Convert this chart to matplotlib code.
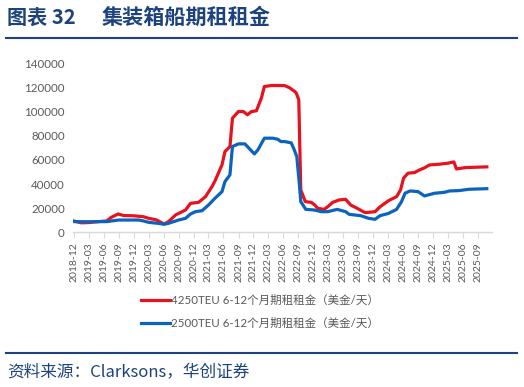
import matplotlib

matplotlib.use("Agg")
import matplotlib.pyplot as plt
import matplotlib.dates as mdates
import numpy as np
import pandas as pd

plt.rcParams["font.family"] = ["Lato", "Noto Sans CJK SC", "DejaVu Sans"]

# month offsets from 2018-12 and values in USD/day
red_months = [0, 1.5, 3, 5, 6.6, 7.5, 8.9, 10, 12, 14, 15, 16.5, 18.1, 19, 20.4, 22.4,
              23.4, 25, 26.4, 27.7, 28.3, 29.7, 30.3, 31.3, 31.8, 33, 34, 34.8, 35.6,
              36.6, 37.6, 38.2, 39.6, 42.2, 43.2, 44.3, 44.6, 45.1, 45.5, 45.9, 46.4,
              47.6, 48.3, 48.9, 50.2, 50.9, 51.9, 53.2, 54.5, 55.5, 56.8, 58.4, 60.4,
              61.4, 63.1, 64.7, 65.5, 66.1, 67.0, 68.3, 69.3, 70.3, 71.3, 73.3, 74.9,
              76.2, 76.7, 78.5, 80.5, 82.8]
red_values = [9500, 8000, 8200, 9000, 9500, 12500, 15300, 14000, 13800, 13000, 11700,
              10500, 7000, 9000, 14500, 18600, 24100, 24900, 29600, 37900, 42600, 55800,
              66800, 71000, 94400, 99900, 99900, 97200, 99900, 100500, 111000, 120600,
              121400, 121400, 119700, 116400, 115100, 109600, 35100, 31000, 25500,
              24900, 22700, 20000, 19100, 21300, 24900, 26900, 27400, 22700, 20000,
              16400, 17200, 21300, 26300, 29600, 35100, 44800, 49000, 49500, 51700,
              53400, 55800, 56400, 57200, 58300, 52500, 53600, 53900, 54200]

blue_months = [0, 3, 6.6, 9, 13, 14, 15, 17, 18.1, 19, 21, 22.4, 23.4, 24.4, 25.7, 27,
               28.3, 29.7, 30.3, 31.3, 31.8, 33, 34.3, 35.3, 36.2, 36.9, 38.2, 39.9,
               40.9, 41.5, 42.3, 43.6, 44.2, 44.7, 45.2, 45.5, 46.5, 48.2, 49.6, 50.9,
               52.8, 54.5, 55.2, 57.5, 59.1, 60.4, 61.4, 63.1, 64.7, 65.7, 66.4, 67.4,
               69.0, 70.3, 72.3, 74.3, 75.3, 77.2, 79.2, 82.8]
blue_values = [9000, 8900, 9000, 10300, 10300, 9500, 8400, 7500, 6800, 7600, 10300,
               11700, 15300, 17200, 18000, 22700, 28300, 33700, 42000, 47600, 71000,
               73200, 73200, 68800, 64900, 68200, 77900, 77900, 77000, 75100, 75100,
               74000, 68200, 62700, 40700, 25500, 19100, 18600, 17200, 17200, 19100,
               17200, 15000, 13900, 11700, 10900, 13900, 15800, 19100, 25500, 32400,
               34300, 33800, 30200, 32400, 33200, 34300, 34600, 35700, 36200]

label_red = "4250TEU 6-12个月期租租金（美金/天）"
label_blue = "2500TEU 6-12个月期租租金（美金/天）"

TITLE_BLUE = "#1d437f"
RED = "#e8121e"
BLUE = "#0a64be"
GREY = "#595959"


def to_dates(months):
    base = pd.Timestamp("2018-12-01")
    return [base + pd.Timedelta(days=float(m) * 30.44) for m in months]


fig = plt.figure(figsize=(5.24, 3.87), dpi=100)
ax = fig.add_axes([73 / 524, 1 - 232.5 / 387, (492 - 73) / 524, (232.5 - 63) / 387])

ax.plot(to_dates(red_months), red_values, color=RED, lw=2.3, label=label_red,
        solid_joinstyle="round")
ax.plot(to_dates(blue_months), blue_values, color=BLUE, lw=2.3, label=label_blue,
        solid_joinstyle="round")

ax.set_ylim(0, 140000)
ax.set_yticks(np.arange(0, 140001, 20000))
ax.set_xlim(pd.Timestamp("2018-11-26"), pd.Timestamp("2025-11-26"))
ax.xaxis.set_major_locator(mdates.MonthLocator(bymonth=[3, 6, 9, 12]))
ax.xaxis.set_major_formatter(mdates.DateFormatter("%Y-%m"))

for side in ("top", "right", "left"):
    ax.spines[side].set_visible(False)
ax.spines["bottom"].set_color("#d9d9d9")
ax.spines["bottom"].set_linewidth(1.0)
ax.tick_params(axis="y", length=0, labelsize=8.3, labelcolor=GREY, pad=6)
ax.tick_params(axis="x", length=4, color="#d9d9d9", labelsize=7.5, labelcolor=GREY,
               rotation=90, pad=3)

fig.legend(loc="center", bbox_to_anchor=(260 / 524, 1 - 312 / 387), frameon=False,
           fontsize=8.3, labelcolor=GREY, handlelength=2.5, handletextpad=0.15,
           labelspacing=1.0)

fig.text(7 / 524, 1 - 17 / 387, "图表 32", fontsize=14.5, fontweight="bold",
         color=TITLE_BLUE, va="center", family=["Noto Sans CJK SC"])
fig.text(102 / 524, 1 - 17 / 387, "集装箱船期租租金", fontsize=15.2, fontweight="bold",
         color=TITLE_BLUE, va="center", family=["Noto Sans CJK SC"])
fig.add_artist(plt.Line2D([6 / 524, 517 / 524], [1 - 38 / 387] * 2, color=TITLE_BLUE,
                          lw=1.5))
fig.add_artist(plt.Line2D([6 / 524, 517 / 524], [1 - 353 / 387] * 2, color=TITLE_BLUE,
                          lw=1.5))
fig.text(7 / 524, 1 - 372 / 387, "资料来源：Clarksons，华创证券", fontsize=12,
         color=TITLE_BLUE, va="center", style="italic",
         family=["Noto Sans CJK SC", "DejaVu Sans"])

fig.savefig("out.png", dpi=100)
